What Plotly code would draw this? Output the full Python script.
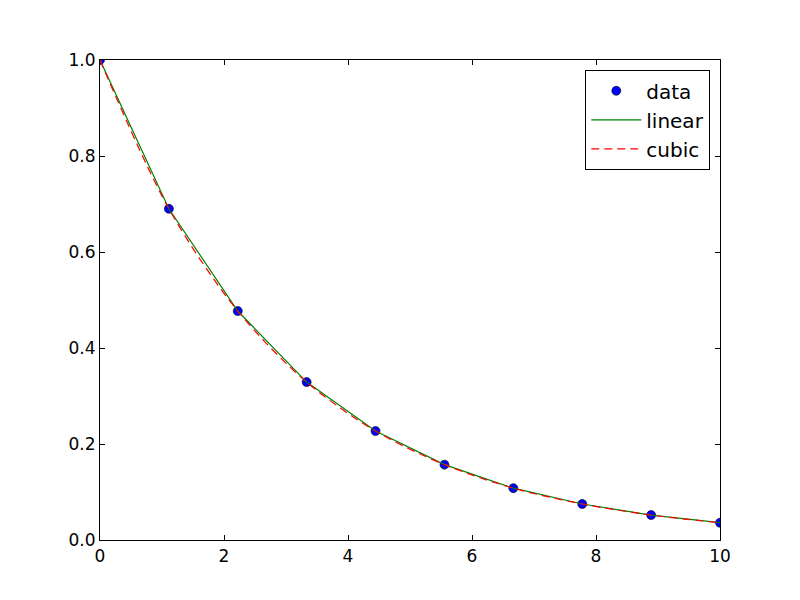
import plotly.graph_objects as go

x_data = [0.0, 1.111, 2.222, 3.333, 4.444, 5.556, 6.667, 7.778, 8.889, 10.0]
y_data = [1.0, 0.690, 0.477, 0.329, 0.227, 0.157, 0.108, 0.075, 0.052, 0.036]

x_ticks = [0, 2, 4, 6, 8, 10]
y_ticks = [0.0, 0.2, 0.4, 0.6, 0.8, 1.0]

fig = go.Figure()
fig.add_trace(go.Scatter(x=x_data, y=y_data, mode="markers", name="data",
                         marker=dict(color="#0000ff", size=9, line=dict(color="black", width=0.6)),
                         cliponaxis=True))
fig.add_trace(go.Scatter(x=x_data, y=y_data, mode="lines", name="linear",
                         line=dict(color="#008000", width=1.2), cliponaxis=True))
fig.add_trace(go.Scatter(x=x_data, y=y_data, mode="lines", name="cubic",
                         line=dict(color="#ff0000", width=1.2, dash="8px,5px", shape="spline", smoothing=0.9),
                         cliponaxis=True))

axis_common = dict(showgrid=False, zeroline=False, showline=True, linecolor="black", linewidth=1.2,
                   mirror="allticks", ticks="inside", ticklen=5, tickcolor="black", tickwidth=1,
                   tickfont=dict(family="DejaVu Sans", size=17, color="black"))
fig.update_layout(
    width=800, height=600,
    margin=dict(l=92, r=88, t=52, b=68),
    paper_bgcolor="white", plot_bgcolor="white",
    xaxis=dict(range=[0, 10], tickvals=x_ticks, ticktext=[str(v) for v in x_ticks], **axis_common),
    yaxis=dict(range=[0, 1], tickvals=y_ticks, ticktext=["%.1f" % v for v in y_ticks], **axis_common),
    legend=dict(x=0.984, y=0.979, xanchor="right", yanchor="top", bgcolor="white",
                bordercolor="black", borderwidth=1.2, itemwidth=50,
                font=dict(family="DejaVu Sans", size=20, color="black")),
    showlegend=True,
)
fig.write_html("out.html")
